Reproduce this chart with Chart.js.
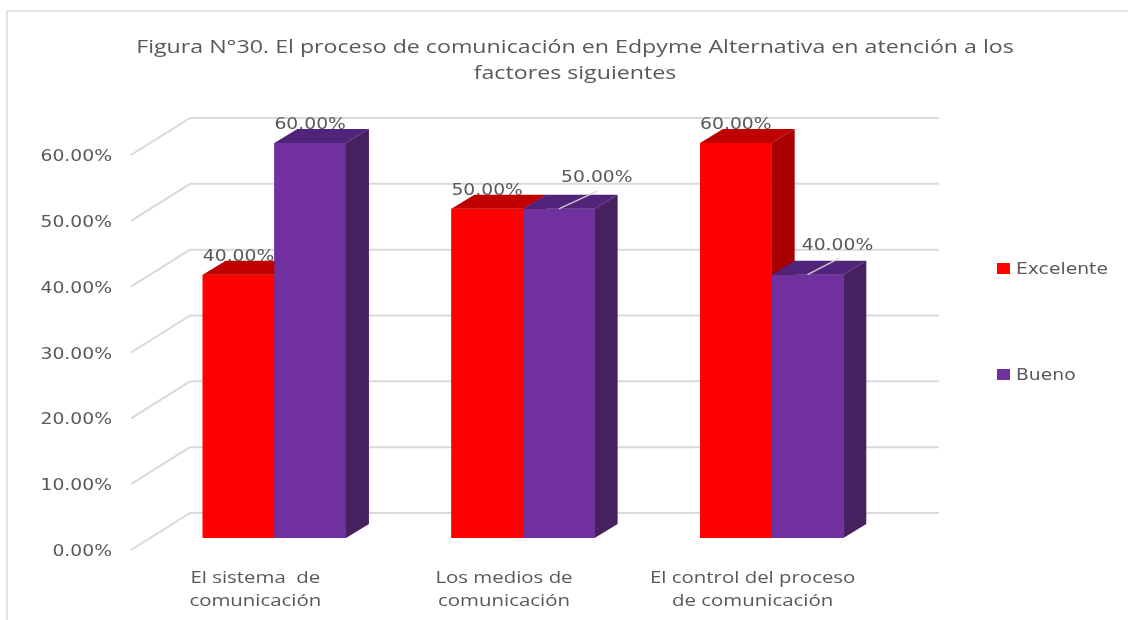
<!DOCTYPE html>
<html>
<head>
<meta charset="utf-8">
<script src="https://cdn.jsdelivr.net/npm/chart.js@4"></script>
<style>
  html, body { margin: 0; padding: 0; background: #fff; }
  #wrap { width: 1128px; height: 620px; position: relative; }
</style>
</head>
<body>
<div id="wrap"><canvas id="chart" width="1128" height="620"></canvas></div>
<script>
// Datos de la figura
const categories = [
  ['El sistema  de', 'comunicación'],
  ['Los medios de', 'comunicación'],
  ['El control del proceso', 'de comunicación']
];
const seriesNames = ['Excelente', 'Bueno'];
const excelente = [40, 50, 60];
const bueno = [60, 50, 40];
const yTicks = [0, 10, 20, 30, 40, 50, 60];
const titleLines = [
  'Figura N°30. El proceso de comunicación en Edpyme Alternativa en atención a los',
  'factores siguientes'
];

// caras de las barras: frente, tapa y costado
const faces = [
  { front: '#FF0000', top: '#C00000', side: '#A80000' },
  { front: '#7030A0', top: '#52237A', side: '#47205F' }
];

// desplazamientos de la perspectiva
const DEPTH = { dx: 23, dy: -14 };     // fondo de cada barra
const FLOOR = { dx: -19, dy: 12 };     // borde delantero del piso
const WALL = { dx: 40, dy: -25 };      // pared del fondo

// etiquetas que van desplazadas con línea guía (serie Bueno)
const labelShift = [
  [null, null, null],
  [null, { dx: 38, dy: -33 }, { dx: 30, dy: -31 }]
];

const TEXT = '#595959';
const GRID = '#d9d9d9';

function stretchText(ctx, text, x, y, font, sx, align) {
  ctx.save();
  ctx.font = font;
  ctx.fillStyle = TEXT;
  ctx.textAlign = align || 'center';
  ctx.textBaseline = 'alphabetic';
  ctx.translate(x, y);
  ctx.scale(sx, 1);
  ctx.fillText(text, 0, 0);
  ctx.restore();
}

function poly(ctx, pts, color) {
  ctx.beginPath();
  ctx.moveTo(pts[0][0], pts[0][1]);
  for (let i = 1; i < pts.length; i++) ctx.lineTo(pts[i][0], pts[i][1]);
  ctx.closePath();
  ctx.fillStyle = color;
  ctx.fill();
}

const TICK_FONT = '15px "DejaVu Sans"';
const TICK_SX = 1.25;
const SANS_FONT = '"Open Sans"';

const chart3d = {
  id: 'chart3d',
  beforeDatasetsDraw(chart) {
    const ctx = chart.ctx;
    const area = chart.chartArea;
    const y = chart.scales.y;

    // marco exterior
    ctx.save();
    ctx.strokeStyle = GRID;
    ctx.lineWidth = 1.5;
    ctx.beginPath();
    ctx.moveTo(7, 620);
    ctx.lineTo(7, 11);
    ctx.lineTo(1128, 11);
    ctx.stroke();

    // líneas de la pared del fondo y de la pared lateral
    ctx.lineWidth = 2;
    yTicks.forEach(t => {
      const py = y.getPixelForValue(t);
      ctx.beginPath();
      ctx.moveTo(area.left + WALL.dx, py + WALL.dy);
      ctx.lineTo(area.right + WALL.dx + 3, py + WALL.dy);
      ctx.stroke();
      ctx.beginPath();
      ctx.moveTo(area.left + FLOOR.dx, py + FLOOR.dy);
      ctx.lineTo(area.left + WALL.dx, py + WALL.dy);
      ctx.stroke();
    });
    ctx.restore();

    // etiquetas del eje vertical
    yTicks.forEach(t => {
      const py = y.getPixelForValue(t);
      stretchText(ctx, t.toFixed(2) + '%', 112, py + FLOOR.dy + 6, TICK_FONT, TICK_SX, 'right');
    });
  },
  afterDatasetsDraw(chart) {
    // se vuelve a pintar serie por serie (Excelente y luego Bueno)
    // para que el frente de cada barra tape el costado de la anterior
    const ctx = chart.ctx;
    chart.data.datasets.forEach((ds, di) => {
      const f = faces[di];
      chart.getDatasetMeta(di).data.forEach(bar => {
        bar.draw(ctx);
        const L = bar.x - bar.width / 2;
        const R = bar.x + bar.width / 2;
        const top = bar.y;
        const base = bar.base;
        poly(ctx, [[L, top], [R, top], [R + DEPTH.dx, top + DEPTH.dy], [L + DEPTH.dx, top + DEPTH.dy]], f.top);
        poly(ctx, [[R, top], [R + DEPTH.dx, top + DEPTH.dy], [R + DEPTH.dx, base + DEPTH.dy], [R, base]], f.side);
      });
    });
  },
  afterDraw(chart) {
    const ctx = chart.ctx;
    const x = chart.scales.x;

    // título
    stretchText(ctx, titleLines[0], 575, 53, '19px ' + SANS_FONT, 1.22);
    stretchText(ctx, titleLines[1], 575, 79, '19px ' + SANS_FONT, 1.22);

    // etiquetas de valor
    chart.data.datasets.forEach((ds, di) => {
      const meta = chart.getDatasetMeta(di);
      meta.data.forEach((bar, i) => {
        const txt = ds.data[i].toFixed(2) + '%';
        const sh = labelShift[di][i];
        if (sh) {
          const lx = bar.x + sh.dx, ly = bar.y + sh.dy;
          ctx.save();
          ctx.strokeStyle = 'rgba(217,217,217,0.9)';
          ctx.lineWidth = 1.5;
          ctx.beginPath();
          ctx.moveTo(bar.x, bar.y);
          ctx.lineTo(lx + 1, ly + 15);
          ctx.stroke();
          ctx.restore();
          stretchText(ctx, txt, lx, ly + 6, TICK_FONT, TICK_SX);
        } else {
          stretchText(ctx, txt, bar.x, bar.y - 14, TICK_FONT, TICK_SX);
        }
      });
    });

    // categorías sobre el borde delantero del piso
    categories.forEach((lines, i) => {
      const cx = x.getPixelForValue(i) + FLOOR.dx;
      lines.forEach((ln, j) => {
        stretchText(ctx, ln, cx, 583 + j * 23, '17px ' + SANS_FONT, 1.2);
      });
    });

    // leyenda
    seriesNames.forEach((name, i) => {
      const ly = 268 + i * 106;
      ctx.fillStyle = faces[i].front;
      ctx.fillRect(997, ly - 5, 13, 11);
      stretchText(ctx, name, 1016, ly + 6, TICK_FONT, TICK_SX, 'left');
    });
  }
};

new Chart(document.getElementById('chart'), {
  type: 'bar',
  data: {
    labels: categories,
    datasets: [
      { label: seriesNames[0], data: excelente, backgroundColor: faces[0].front },
      { label: seriesNames[1], data: bueno, backgroundColor: faces[1].front }
    ]
  },
  options: {
    responsive: false,
    animation: false,
    events: [],
    layout: { padding: { left: 150, right: 232, top: 143, bottom: 82 } },
    datasets: {
      bar: { categoryPercentage: 0.576, barPercentage: 1, borderWidth: 0 }
    },
    plugins: {
      legend: { display: false },
      title: { display: false },
      tooltip: { enabled: false }
    },
    scales: {
      x: { display: false },
      y: { display: false, min: 0, max: 60 }
    }
  },
  plugins: [chart3d]
});
</script>
</body>
</html>
